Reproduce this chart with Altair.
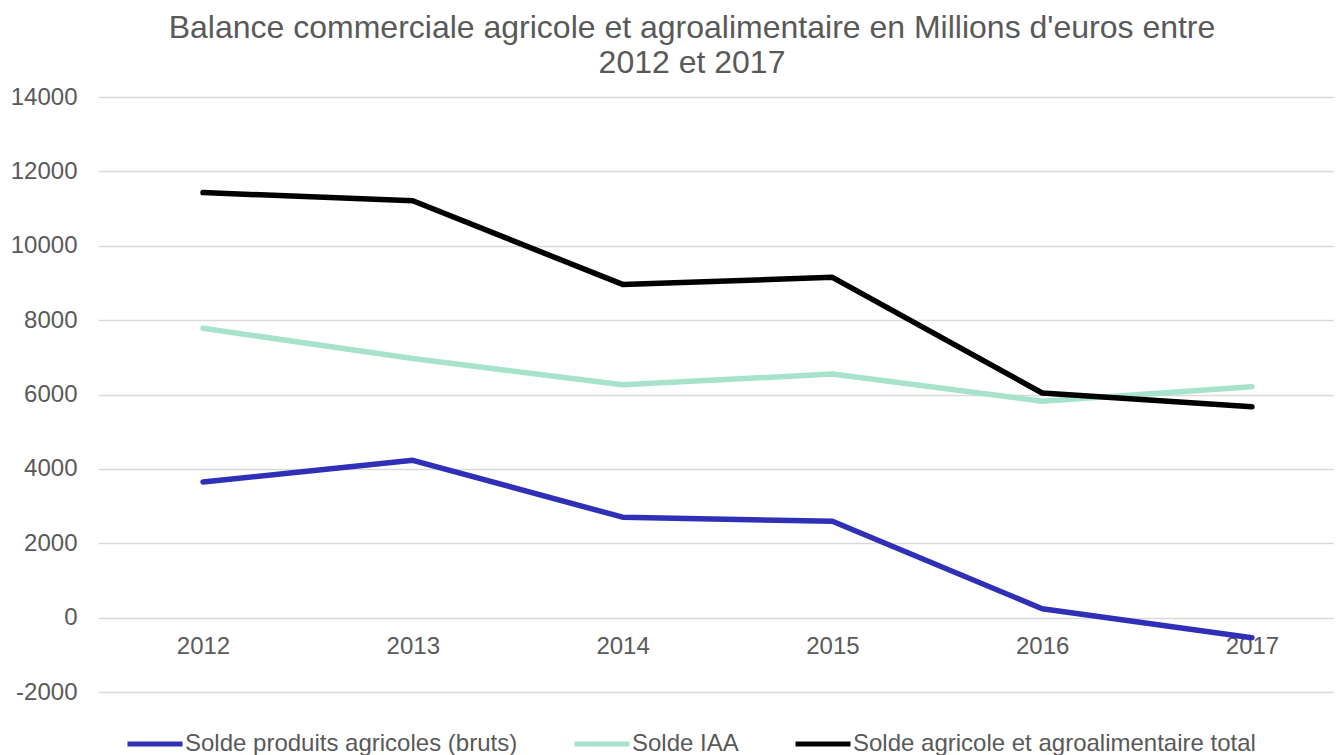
import altair as alt
import pandas as pd

years = [2012, 2013, 2014, 2015, 2016, 2017]
series_names = [
    "Solde produits agricoles (bruts)",
    "Solde IAA",
    "Solde agricole et agroalimentaire total",
]
solde_agricoles = [3650, 4230, 2700, 2590, 240, -540]
solde_iaa = [7780, 6970, 6260, 6550, 5820, 6210]
solde_total = [11430, 11210, 8960, 9150, 6040, 5670]
colors = ["#2F2FB7", "#A6E3CA", "#000000"]
title_lines = [
    "Balance commerciale agricole et agroalimentaire en Millions d'euros entre",
    "2012 et 2017",
]

rows = []
for name, vals in zip(series_names, [solde_agricoles, solde_iaa, solde_total]):
    for y, v in zip(years, vals):
        rows.append({"Année": y, "Série": name, "Valeur": v})
df = pd.DataFrame(rows)

FONT = "Liberation Sans"
TXT = "#595959"

chart = (
    alt.Chart(df)
    .mark_line(strokeWidth=5.5, strokeCap="round", strokeJoin="round")
    .encode(
        x=alt.X(
            "Année:Q",
            scale=alt.Scale(domain=[2011.4995, 2017.391], nice=False, zero=False),
            axis=alt.Axis(
                title=None,
                values=years,
                labelExpr="toString(datum.value)",
                labelAngle=0,
                domain=False,
                ticks=False,
                tickSize=0,
                grid=False,
                offset=-75,
                labelPadding=17,
                labelFontSize=24,
                labelFont=FONT,
                labelColor=TXT,
                labelFlush=False,
                labelOverlap=False,
            ),
        ),
        y=alt.Y(
            "Valeur:Q",
            scale=alt.Scale(domain=[-2000, 14000], nice=False, zero=False),
            axis=alt.Axis(
                title=None,
                values=list(range(-2000, 14001, 2000)),
                labelExpr="toString(datum.value)",
                domain=False,
                ticks=False,
                tickSize=0,
                labelPadding=21,
                labelFontSize=24,
                labelFont=FONT,
                labelColor=TXT,
                gridColor="#D9D9D9",
                gridWidth=1.5,
                minExtent=90,
                maxExtent=90,
            ),
        ),
        color=alt.Color(
            "Série:N",
            sort=series_names,
            scale=alt.Scale(domain=series_names, range=colors),
            legend=alt.Legend(
                title=None,
                orient="none",
                direction="horizontal",
                legendX=27,
                legendY=617,
                symbolType="stroke",
                symbolSize=3025,
                symbolStrokeWidth=5,
                labelFontSize=24,
                labelFont=FONT,
                labelColor=TXT,
                labelOffset=0,
                columnPadding=46,
                padding=0,
                labelLimit=600,
            ),
        ),
        order=alt.Order("Série:N"),
    )
    .properties(
        width=1236,
        height=595,
        padding={"left": 90, "top": 89, "right": 0, "bottom": 70},
        autosize=alt.AutoSizeParams(type="none"),
        title=alt.TitleParams(
            text=title_lines,
            fontSize=32,
            font=FONT,
            fontWeight="normal",
            color=TXT,
            lineHeight=35,
            anchor="middle",
            dx=-24,
            offset=5,
        ),
    )
    .configure_view(stroke=None)
)

chart.save("out.html", embed_options={"renderer": "svg", "actions": False})
